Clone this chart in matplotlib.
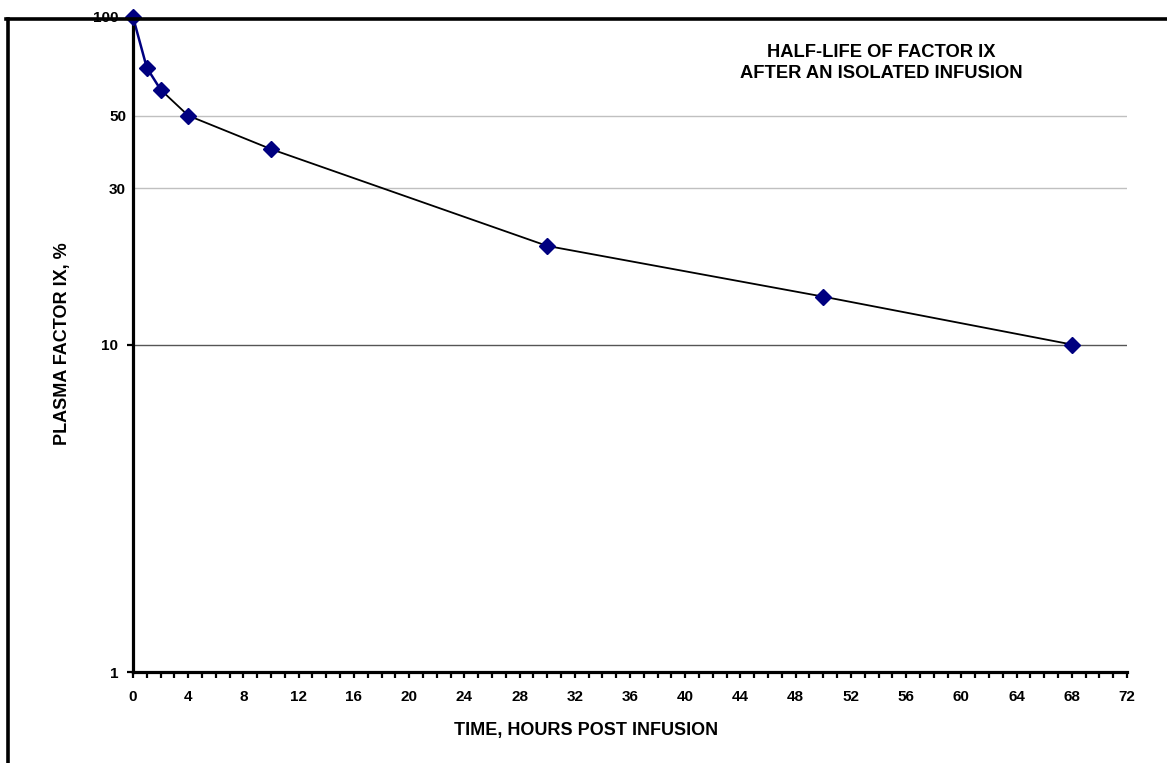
import matplotlib
matplotlib.use("Agg")
import matplotlib.pyplot as plt
from matplotlib.lines import Line2D
from matplotlib.ticker import FixedLocator, FixedFormatter

plt.rcParams['font.family'] = ['Liberation Sans', 'DejaVu Sans']
plt.rcParams['font.weight'] = 'bold'

hours = [0, 1, 2, 4, 10, 30, 50, 68]
factor_ix = [100, 70, 60, 50, 39.5, 20, 14, 10]

x_major = list(range(0, 73, 4))
x_minor = list(range(0, 73, 1))
y_major = [1, 10, 100]
y_minor = [30, 50]

W, H = 1167, 763
fig = plt.figure(figsize=(W / 100, H / 100), dpi=100)
ax = fig.add_axes([133 / W, 1 - 672 / H, (1127 - 133) / W, (672 - 17) / H])

ax.set_yscale('log')
ax.set_xlim(0, 72)
ax.set_ylim(1, 100)

# gridlines
ax.axhline(10, color='#555555', lw=1.0, zorder=1)
for v in y_minor:
    ax.axhline(v, color='#c0c0c0', lw=1.0, zorder=1)

# lines
ax.plot(hours[:3], factor_ix[:3], color='#000080', lw=1.8, zorder=2, solid_capstyle='round')
ax.plot(hours[2:], factor_ix[2:], color='black', lw=1.3, zorder=2)
ax.plot(hours, factor_ix, ls='none', marker='D', markersize=8.6,
        markerfacecolor='#000080', markeredgecolor='#000080', zorder=3, clip_on=False)

# spines
for s in ['top', 'right']:
    ax.spines[s].set_visible(False)
ax.spines['left'].set_linewidth(2.3)
ax.spines['bottom'].set_linewidth(2.3)

# ticks
ax.xaxis.set_major_locator(FixedLocator(x_major))
ax.xaxis.set_minor_locator(FixedLocator(x_minor))
ax.xaxis.set_major_formatter(FixedFormatter([str(v) for v in x_major]))
ax.tick_params(axis='x', which='both', direction='out', length=4, width=1.6, pad=9,
               labelsize=11)
ax.yaxis.set_major_locator(FixedLocator(y_major))
ax.yaxis.set_major_formatter(FixedFormatter([str(v) for v in y_major]))
ax.yaxis.set_minor_locator(FixedLocator(y_minor))
ax.yaxis.set_minor_formatter(FixedFormatter([str(v) for v in y_minor]))
ax.tick_params(axis='y', which='major', direction='out', length=4, width=1.6, pad=6.5,
               labelsize=11)
ax.tick_params(axis='y', which='minor', length=0, pad=5, labelsize=11)
for lab in ax.get_xticklabels() + ax.get_yticklabels() + ax.get_yticklabels(minor=True):
    lab.set_fontweight('bold')

# texts
fig.text(881 / W, 1 - 63 / H, 'HALF-LIFE OF FACTOR IX\nAFTER AN ISOLATED INFUSION',
         ha='center', va='center', fontsize=13.25, fontweight='bold', linespacing=1.3)
fig.text(586 / W, 1 - 730 / H, 'TIME, HOURS POST INFUSION', ha='center', va='center',
         fontsize=13, fontweight='bold')
fig.text(62 / W, 1 - 344 / H, 'PLASMA FACTOR IX, %', ha='center', va='center',
         rotation=90, fontsize=13, fontweight='bold')

# outer frame (figure border)
fig.add_artist(Line2D([6 / W, 1.0], [1 - 18.5 / H, 1 - 18.5 / H], color='black', lw=2.6,
                      transform=fig.transFigure))
fig.add_artist(Line2D([7.5 / W, 7.5 / W], [1 - 18.5 / H, 0], color='black', lw=2.6,
                      transform=fig.transFigure))

fig.savefig('out.png', dpi=100)
